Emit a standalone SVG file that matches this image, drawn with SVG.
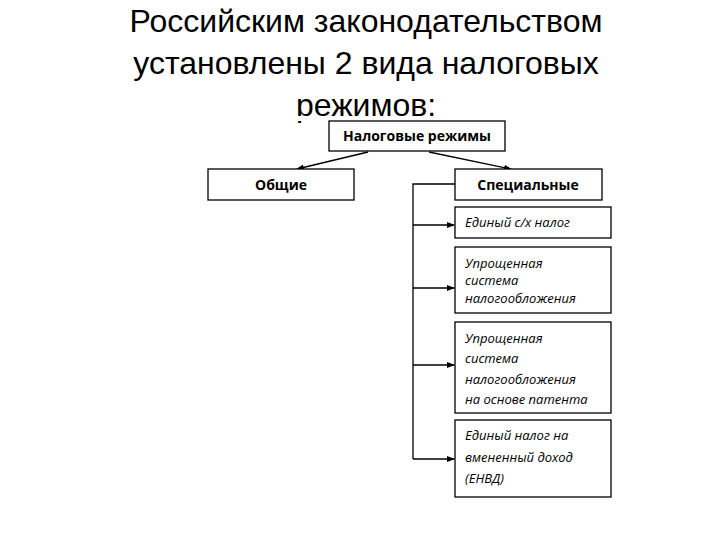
<svg xmlns="http://www.w3.org/2000/svg" width="720" height="540" viewBox="0 0 720 540">
<style>
.t{font-family:"Liberation Sans",Arial,sans-serif;font-size:32px;fill:#000;text-anchor:middle}
.b{fill:#fff;stroke:#000;stroke-width:1.3}
.h{font-family:"Open Sans","DejaVu Sans",sans-serif;font-size:14px;font-weight:bold;text-anchor:middle}
.i{font-family:"Open Sans","DejaVu Sans",sans-serif;font-size:13px;font-style:italic}
.c{stroke:#000;stroke-width:1.3;fill:none}
</style>
<defs><marker id="a" markerWidth="8" markerHeight="8" refX="7" refY="4" orient="auto" markerUnits="userSpaceOnUse"><path d="M0,1 L8,4 L0,7z" fill="#000"/></marker></defs>
<rect width="720" height="540" fill="#fff"/>
<g id="title">
<text class="t" x="366" y="32">Российским законодательством</text>
<text class="t" x="366" y="74">установлены 2 вида налоговых</text>
<text class="t" x="366" y="116">режимов:</text>
<rect x="0" y="116" width="720" height="5" fill="#fff"/>
</g>
<g id="connectors">
<path class="c" d="M368,152 L297,169" marker-end="url(#a)"/>
<path class="c" d="M429,152 L511,169" marker-end="url(#a)"/>
<path class="c" d="M455,184 H413 V459"/>
<path class="c" d="M413,225 H454" marker-end="url(#a)"/>
<path class="c" d="M413,288 H454" marker-end="url(#a)"/>
<path class="c" d="M413,365 H454" marker-end="url(#a)"/>
<path class="c" d="M413,459 H454" marker-end="url(#a)"/>
</g>
<g id="n1"><rect class="b" x="329" y="121" width="176" height="30"/><text class="h" x="417" y="141">Налоговые режимы</text></g>
<g id="n2"><rect class="b" x="208" y="169" width="146" height="31"/><text class="h" x="281" y="190">Общие</text></g>
<g id="n3"><rect class="b" x="455" y="169" width="147" height="31"/><text class="h" x="528" y="190">Специальные</text></g>
<g id="n4"><rect class="b" x="455" y="207" width="156" height="31"/><text class="i" x="465" y="227">Единый с/х налог</text></g>
<g id="n5"><rect class="b" x="455" y="247" width="156" height="66"/><text class="i" x="465" y="268">Упрощенная</text><text class="i" x="465" y="285">система</text><text class="i" x="465" y="303">налогообложения</text></g>
<g id="n6"><rect class="b" x="455" y="322" width="156" height="91"/><text class="i" x="465" y="343">Упрощенная</text><text class="i" x="465" y="363">система</text><text class="i" x="465" y="384">налогообложения</text><text class="i" x="465" y="404">на основе патента</text></g>
<g id="n7"><rect class="b" x="455" y="420" width="156" height="77"/><text class="i" x="465" y="440">Единый налог на</text><text class="i" x="465" y="462">вмененный доход</text><text class="i" x="465" y="483">(ЕНВД)</text></g>
</svg>
